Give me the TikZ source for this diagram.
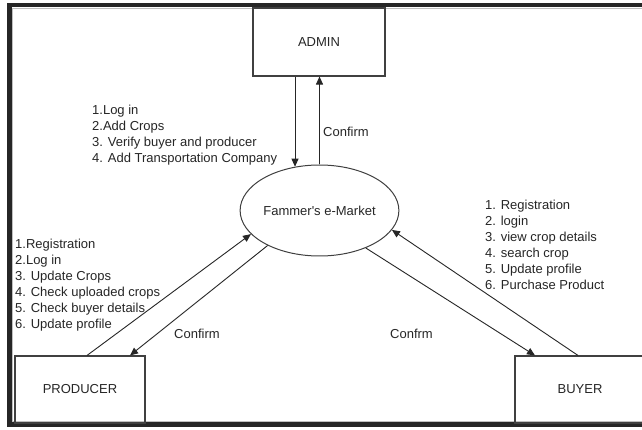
\documentclass[tikz,border=0pt]{standalone}
\usepackage{fontspec}
\setmainfont{Liberation Sans}
\usetikzlibrary{arrows.meta,shapes.geometric}
\begin{document}
\begin{tikzpicture}[x=1pt,y=-1pt,
  every node/.style={font=\fontsize{13}{16}\selectfont, text=black!85},
  box/.style={draw=black!75, line width=1.1pt, minimum width=132pt, minimum height=68pt, inner sep=0pt},
  listtext/.style={align=left, inner sep=0pt, anchor=north west},
  lbl/.style={inner sep=0pt, anchor=west},
  arr/.style={draw=black!85, line width=0.9pt, -{Triangle[length=8pt,width=7pt]}}]
\useasboundingbox (0,0) rectangle (642,430);
\clip (0,0) rectangle (642,430);
\fill[white] (0,0) rectangle (642,430);
\draw[line width=4.5pt, black!85] (9.5,5) rectangle (660,424.5);
\draw[line width=0.8pt, black!25] (12.6,8) -- (12.6,421.5) -- (660,421.5);
\draw[line width=0.8pt, black!25] (12.6,8) -- (660,8);
\node[box] (admin) at (319,42) {ADMIN};
\node[box, minimum width=130pt, minimum height=67pt] (producer) at (80,389.5) {PRODUCER};
\node[box, minimum width=130pt, minimum height=67pt] (buyer) at (580,389.5) {BUYER};
\node[ellipse, draw=black!75, line width=1pt, minimum width=133pt, minimum height=91pt, inner sep=0pt] (market) at (319.5,210.5) {Fammer\textquotesingle s e-Market};
% admin arrows
\draw[arr] ([xshift=-24pt]admin.south) -- ([xshift=-24pt]admin.south |- market.119.5);
\draw[arr] (market.north) -- (market.north |- admin.south);
% producer arrows
\draw[arr] ([xshift=7pt]producer.north) -- (market.199);
\draw[arr] (market.214) -- ([xshift=50pt]producer.north);
% buyer arrows
\draw[arr] (market.321.6) -- ([xshift=-45pt]buyer.north);
\draw[arr] ([xshift=-2pt]buyer.north) -- (market.345);
% lists
\node[listtext] (adminlist) at (92,104.5) {1.Log in\\2.Add Crops\\3. Verify buyer and producer\\4. Add Transportation Company};
\node[listtext] (producerlist) at (15,238.5) {1.Registration\\2.Log in\\3. Update Crops\\4. Check uploaded crops\\5. Check buyer details\\6. Update profile};
\node[listtext] (buyerlist) at (485,199.5) {1. Registration\\2. login\\3. view crop details\\4. search crop\\5. Update profile\\6. Purchase Product};
% confirm labels
\node[lbl] (confirmadmin) at (323,132) {Confirm};
\node[lbl] (confirmproducer) at (174,334) {Confirm};
\node[lbl] (confirmbuyer) at (390,334) {Confrm};
\end{tikzpicture}
\end{document}
